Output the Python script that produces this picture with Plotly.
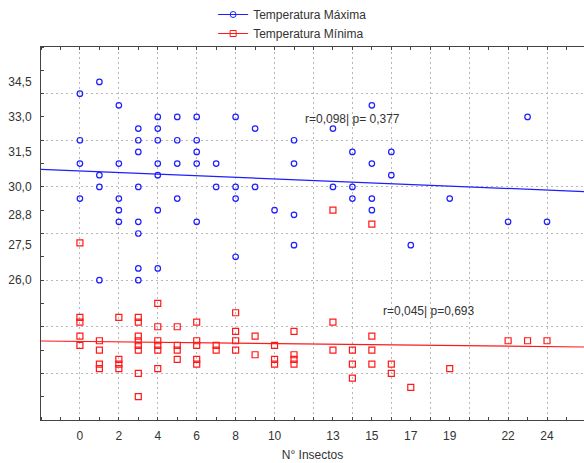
import numpy as np
import plotly.graph_objects as go

# ---------------- data ----------------
x_max = [0, 0, 0, 0,
         1, 1, 1, 1,
         2, 2, 2, 2, 2,
         3, 3, 3, 3, 3, 3, 3, 3,
         4, 4, 4, 4, 4, 4, 4,
         5, 5, 5, 5,
         6, 6, 6, 6, 6,
         7, 7,
         8, 8, 8, 8,
         9, 9,
         10,
         11, 11, 11, 11,
         13, 13,
         14, 14, 14,
         15, 15, 15, 15,
         16, 16,
         17, 19, 22, 23, 24]
t_max = [34.0, 32.0, 31.0, 29.5,
         34.5, 30.5, 30.0, 26.0,
         33.5, 31.0, 29.5, 29.0, 28.5,
         32.5, 32.0, 31.5, 30.0, 28.5, 28.0, 26.5, 26.0,
         33.0, 32.5, 32.0, 31.0, 30.5, 29.0, 26.5,
         33.0, 32.0, 31.0, 29.5,
         33.0, 32.0, 31.5, 31.0, 28.5,
         31.0, 30.0,
         33.0, 30.0, 29.5, 27.0,
         32.5, 30.0,
         29.0,
         32.0, 31.0, 28.8, 27.5,
         32.5, 30.0,
         31.5, 30.0, 29.5,
         33.5, 31.0, 29.5, 29.0,
         31.5, 30.5,
         27.5, 29.5, 28.5, 33.0, 28.5]

x_min = [0, 0, 0, 0, 0,
         1, 1, 1, 1,
         2, 2, 2, 2,
         3, 3, 3, 3, 3, 3, 3, 3,
         4, 4, 4, 4, 4, 4,
         5, 5, 5, 5,
         6, 6, 6, 6, 6,
         7, 7,
         8, 8, 8, 8,
         9, 9,
         10, 10, 10,
         11, 11, 11, 11,
         13, 13, 13,
         14, 14, 14,
         15, 15, 15, 15,
         16, 16,
         17, 19, 22, 23, 24]
t_min = [27.6, 24.4, 24.2, 23.6, 23.2,
         23.4, 23.0, 22.4, 22.2,
         24.4, 22.6, 22.4, 22.2,
         24.4, 24.2, 23.6, 23.4, 23.2, 23.0, 22.0, 21.0,
         25.0, 24.0, 23.4, 23.2, 23.0, 22.2,
         24.0, 23.2, 23.0, 22.6,
         24.2, 23.4, 23.2, 22.6, 22.4,
         23.2, 23.0,
         24.6, 23.8, 23.4, 23.0,
         23.6, 22.8,
         23.2, 22.6, 22.4,
         23.8, 22.8, 22.6, 22.4,
         29.0, 24.2, 23.0,
         23.0, 22.4, 21.8,
         28.4, 23.6, 23.0, 22.4,
         22.4, 22.0,
         21.4, 22.2, 23.4, 23.4, 23.4]

# regression lines as drawn in the reference: [intercept, slope]
fit_max = [30.68, -0.034]
fit_min = [23.37, -0.0092]

series_names = ["Temperatura Máxima", "Temperatura Mínima"]
stat_labels = ["r=0,098| p= 0,377", "r=0,045| p=0,693"]

x_tick_vals = [0, 2, 4, 6, 8, 10, 13, 15, 17, 19, 22, 24]
x_tick_text = [str(v) for v in x_tick_vals]
x_grid_vals = list(range(0, 27, 2))

y_tick_vals = [34.5, 33.0, 31.5, 30.0, 28.8, 27.5, 26.0]
y_tick_text = ["34,5", "33,0", "31,5", "30,0", "28,8", "27,5", "26,0"]
y_grid_vals = list(range(20, 37, 2))

x_title = "N° Insectos"

# ---------------- styling ----------------
X_RANGE = [-2, 25.9]
Y_RANGE = [20, 36]
BLUE = "rgb(30,30,255)"
RED = "rgb(255,25,25)"
FONT = "Arial, Liberation Sans, sans-serif"
TXT = "#333333"
AXC = "#444444"

fig = go.Figure()

xr = np.array(X_RANGE, dtype=float)
fig.add_trace(go.Scatter(x=xr, y=fit_max[0] + fit_max[1] * xr, mode="lines",
                         line=dict(color=BLUE, width=1.2), showlegend=False, hoverinfo="skip"))
fig.add_trace(go.Scatter(x=xr, y=fit_min[0] + fit_min[1] * xr, mode="lines",
                         line=dict(color=RED, width=1.2), showlegend=False, hoverinfo="skip"))

fig.add_trace(go.Scatter(x=x_max, y=t_max, mode="markers", showlegend=False,
                         marker=dict(symbol="circle-open", size=5.5, color=BLUE,
                                     line=dict(width=1.2, color=BLUE))))
fig.add_trace(go.Scatter(x=x_min, y=t_min, mode="markers", showlegend=False,
                         marker=dict(symbol="square-open", size=6, color=RED,
                                     line=dict(width=1.2, color=RED))))

fig.add_trace(go.Scatter(x=[None], y=[None], mode="lines+markers", name=series_names[0],
                         line=dict(color=BLUE, width=1),
                         marker=dict(symbol="circle-open", size=6, color=BLUE)))
fig.add_trace(go.Scatter(x=[None], y=[None], mode="lines+markers", name=series_names[1],
                         line=dict(color=RED, width=1),
                         marker=dict(symbol="square-open", size=6, color=RED)))

fig.add_trace(go.Scatter(x=[None], y=[None], xaxis="x2", yaxis="y2",
                         showlegend=False, hoverinfo="skip"))

grid_style = dict(showgrid=True, griddash="2px,3px", gridcolor="#b8b8b8", gridwidth=1,
                  showticklabels=False, ticks="", showline=False, zeroline=False)

fig.update_layout(
    width=584, height=463,
    margin=dict(l=41, r=0, t=47, b=43, autoexpand=False),
    paper_bgcolor="white", plot_bgcolor="white",
    font=dict(family=FONT, size=12, color=TXT),
    xaxis=dict(range=X_RANGE, tickvals=x_tick_vals, ticktext=x_tick_text,
               ticks="", showgrid=False, zeroline=False,
               showline=True, linecolor=AXC, linewidth=1, mirror="ticks",
               minor=dict(dtick=1, tick0=0, ticks="inside", ticklen=3,
                          tickcolor=AXC, showgrid=False),
               tickfont=dict(size=12, color=TXT), ticklabelstandoff=5,
               title=dict(text=x_title, font=dict(size=12, color=TXT), standoff=8)),
    yaxis=dict(range=Y_RANGE, tickvals=y_tick_vals, ticktext=y_tick_text,
               ticks="", showgrid=False, zeroline=False,
               showline=True, linecolor=AXC, linewidth=1, mirror=False,
               minor=dict(dtick=1, tick0=0, ticks="inside", ticklen=3,
                          tickcolor=AXC, showgrid=False),
               tickfont=dict(size=12, color=TXT), ticklabelstandoff=6),
    xaxis2=dict(overlaying="x", range=X_RANGE, tickvals=x_grid_vals, **grid_style),
    yaxis2=dict(overlaying="y", range=Y_RANGE, tickvals=y_grid_vals, **grid_style),
    legend=dict(x=0.317, y=1.126, xanchor="left", yanchor="top",
                font=dict(size=12, color=TXT), bgcolor="rgba(0,0,0,0)",
                tracegroupgap=0),
    showlegend=True,
)

fig.add_annotation(x=11.45, y=32.93, xref="x", yref="y", text=stat_labels[0],
                   showarrow=False, xanchor="left", yanchor="middle",
                   font=dict(size=12, color=TXT))
fig.add_annotation(x=15.45, y=24.68, xref="x", yref="y", text=stat_labels[1],
                   showarrow=False, xanchor="left", yanchor="middle",
                   font=dict(size=12, color=TXT))

fig.write_html(
    "out.html",
    config={"displayModeBar": False},
    post_script="document.body.style.margin='0';document.body.style.padding='0';"
                "document.body.style.overflow='hidden';",
)
